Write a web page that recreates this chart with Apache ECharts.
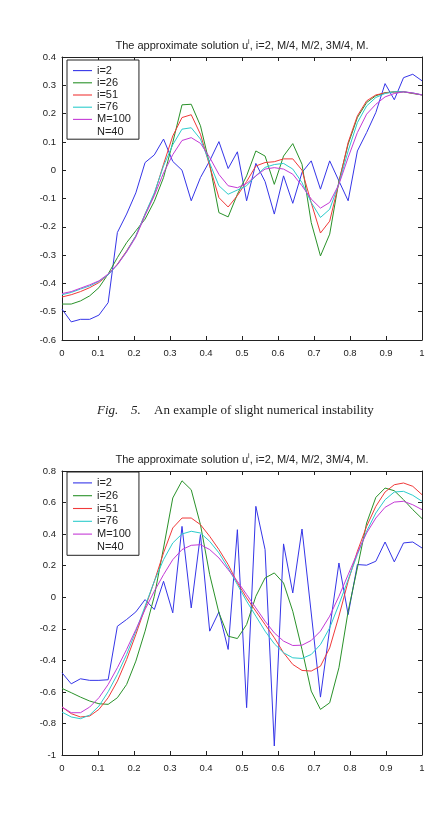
<!DOCTYPE html>
<html><head><meta charset="utf-8">
<script src="https://cdn.jsdelivr.net/npm/echarts@6/dist/echarts.min.js"></script>
<style>html,body{margin:0;padding:0;background:#fff}#c{width:429px;height:813px}</style>
</head><body><div id="c"></div><script>
// ---- data ----
const N = 40; // grid points, x = k/(N-1)
const xs = Array.from({length: N}, (_, k) => k / (N - 1));
const seriesNames = ['i=2', 'i=26', 'i=51', 'i=76', 'M=100'];
const noteName = 'N=40';
const titleMain = 'The approximate solution u';
const titleSup = 'i';
const titleRest = ', i=2, M/4, M/2, 3M/4, M.';
const captionFig = 'Fig.';
const captionNum = '5.';
const captionText = 'An example of slight numerical instability';

const xTickLabels = ['0','0.1','0.2','0.3','0.4','0.5','0.6','0.7','0.8','0.9','1'];
const y1TickLabels = ['-0.6','-0.5','-0.4','-0.3','-0.2','-0.1','0','0.1','0.2','0.3','0.4'];
const y2TickLabels = ['-1','-0.8','-0.6','-0.4','-0.2','0','0.2','0.4','0.6','0.8'];

// Figure 1 (top)
const c1_i2 = [-0.491,-0.536,-0.527,-0.527,-0.512,-0.468,-0.220,-0.155,-0.080,0.027,0.054,0.110,0.031,0.000,-0.108,-0.026,0.033,0.101,0.006,0.065,-0.108,0.024,-0.040,-0.155,-0.020,-0.117,-0.008,0.033,-0.067,0.033,-0.038,-0.108,0.068,0.133,0.204,0.306,0.249,0.327,0.339,0.316];
const c1_i26 = [-0.473,-0.473,-0.462,-0.444,-0.415,-0.367,-0.309,-0.256,-0.214,-0.173,-0.110,-0.026,0.098,0.231,0.233,0.157,0.020,-0.150,-0.165,-0.085,-0.020,0.068,0.050,-0.050,0.050,0.094,0.021,-0.185,-0.303,-0.226,-0.038,0.092,0.186,0.239,0.263,0.274,0.277,0.277,0.271,0.266];
const c1_i51 = [-0.448,-0.440,-0.429,-0.415,-0.397,-0.370,-0.332,-0.285,-0.232,-0.155,-0.085,0.021,0.121,0.186,0.196,0.127,0.015,-0.097,-0.130,-0.090,-0.040,0.015,0.027,0.030,0.040,0.040,0.000,-0.115,-0.222,-0.180,-0.044,0.098,0.192,0.245,0.266,0.273,0.276,0.277,0.272,0.266];
const c1_i76 = [-0.440,-0.432,-0.420,-0.409,-0.393,-0.370,-0.334,-0.287,-0.232,-0.155,-0.080,0.015,0.090,0.145,0.150,0.110,0.025,-0.055,-0.085,-0.070,-0.055,-0.020,0.010,0.020,0.024,0.004,-0.044,-0.114,-0.167,-0.138,-0.047,0.068,0.168,0.227,0.257,0.271,0.277,0.277,0.273,0.266];
const c1_M100 = [-0.436,-0.429,-0.417,-0.405,-0.391,-0.367,-0.334,-0.289,-0.236,-0.160,-0.090,-0.010,0.055,0.105,0.115,0.095,0.045,-0.015,-0.055,-0.062,-0.047,-0.020,0.004,0.009,0.004,-0.014,-0.055,-0.102,-0.134,-0.114,-0.050,0.045,0.133,0.198,0.233,0.259,0.271,0.277,0.273,0.266];

// Figure 2 (bottom)
const c2_i2 = [-0.479,-0.549,-0.517,-0.527,-0.527,-0.523,-0.184,-0.141,-0.093,-0.015,-0.078,0.101,-0.099,0.449,-0.068,0.397,-0.215,-0.093,-0.331,0.428,-0.700,0.576,0.302,-0.943,0.338,0.027,0.432,-0.100,-0.633,-0.200,0.217,-0.110,0.207,0.203,0.228,0.350,0.224,0.344,0.350,0.312];
const c2_i26 = [-0.578,-0.605,-0.633,-0.658,-0.675,-0.679,-0.637,-0.553,-0.405,-0.215,0.006,0.312,0.629,0.738,0.681,0.460,0.143,-0.099,-0.247,-0.262,-0.173,0.006,0.122,0.154,0.090,-0.089,-0.331,-0.595,-0.711,-0.669,-0.447,-0.089,0.186,0.470,0.633,0.692,0.675,0.618,0.555,0.498];
const c2_i51 = [-0.696,-0.738,-0.759,-0.753,-0.711,-0.637,-0.532,-0.395,-0.236,-0.068,0.101,0.281,0.439,0.502,0.502,0.460,0.386,0.302,0.207,0.091,-0.004,-0.089,-0.173,-0.257,-0.352,-0.426,-0.464,-0.468,-0.437,-0.321,-0.120,0.101,0.291,0.449,0.576,0.667,0.713,0.724,0.703,0.650];
const c2_i76 = [-0.728,-0.759,-0.770,-0.747,-0.690,-0.599,-0.489,-0.363,-0.215,-0.057,0.101,0.238,0.344,0.401,0.418,0.407,0.354,0.281,0.186,0.080,-0.025,-0.120,-0.215,-0.295,-0.352,-0.384,-0.388,-0.363,-0.300,-0.194,-0.046,0.112,0.270,0.418,0.534,0.618,0.667,0.671,0.646,0.608];
const c2_M100 = [-0.696,-0.732,-0.732,-0.696,-0.637,-0.553,-0.447,-0.331,-0.205,-0.078,0.038,0.143,0.238,0.302,0.329,0.333,0.302,0.249,0.175,0.101,0.017,-0.068,-0.152,-0.226,-0.278,-0.306,-0.304,-0.274,-0.215,-0.120,0.006,0.143,0.281,0.407,0.502,0.570,0.603,0.608,0.586,0.555];

// ---- build ----
const colors = ['#3535e8', '#2a922a', '#f03a3a', '#2ccccc', '#c43ad6'];
const FONT = '"Liberation Sans", Arial, sans-serif';
const SERIF = '"Liberation Serif", "Times New Roman", serif';
const INK = '#222';
const LINE_ICON = 'path://M0,0 L19,0 L19,1.1 L0,1.1 Z';

const figs = [
  {data: [c1_i2, c1_i26, c1_i51, c1_i76, c1_M100], yLabels: y1TickLabels, yMin: -0.6, yMax: 0.4, yStep: 0.1,
   grid: {left: 62, top: 57, width: 360, height: 283}, titleY: 46, rowH: 12.2,
   legend: {left: 67, top: 60, itemGap: 0, padding: [4.5, 8, 1.5, 6]}},
  {data: [c2_i2, c2_i26, c2_i51, c2_i76, c2_M100], yLabels: y2TickLabels, yMin: -1, yMax: 0.8, yStep: 0.2,
   grid: {left: 62, top: 471, width: 360, height: 284}, titleY: 460, rowH: 12.8,
   legend: {left: 67, top: 472, itemGap: 0, padding: [4.5, 8, 2, 6]}}
];

const grids = [], xAxes = [], yAxes = [], series = [], legends = [], graphics = [];
const axisLine = {show: true, onZero: false, lineStyle: {color: INK, width: 1}};
const axisTick = {show: true, inside: true, length: 4, lineStyle: {color: INK, width: 1}};

figs.forEach((f, g) => {
  grids.push(f.grid);
  const xl = v => xTickLabels[Math.round((v - 0) / 0.1)];
  const yl = v => f.yLabels[Math.round((v - f.yMin) / f.yStep)];
  xAxes.push({type: 'value', gridIndex: g, position: 'bottom', min: 0, max: 1, interval: 0.1,
    axisLine, axisTick, splitLine: {show: false},
    axisLabel: {color: INK, fontSize: 9.5, fontFamily: FONT, margin: 8, formatter: xl}});
  xAxes.push({type: 'value', gridIndex: g, position: 'top', min: 0, max: 1, interval: 0.1,
    axisLine, axisTick, splitLine: {show: false}, axisLabel: {show: false}});
  yAxes.push({type: 'value', gridIndex: g, position: 'left', min: f.yMin, max: f.yMax, interval: f.yStep,
    axisLine, axisTick, splitLine: {show: false},
    axisLabel: {color: INK, fontSize: 9.5, fontFamily: FONT, margin: 6, formatter: yl}});
  yAxes.push({type: 'value', gridIndex: g, position: 'right', min: f.yMin, max: f.yMax, interval: f.yStep,
    axisLine, axisTick, splitLine: {show: false}, axisLabel: {show: false}});

  f.data.forEach((arr, s) => {
    series.push({type: 'line', name: seriesNames[s], xAxisIndex: g * 2, yAxisIndex: g * 2,
      data: xs.map((x, k) => [x, arr[k]]), symbol: 'none', silent: true, animation: false,
      lineStyle: {width: 1, color: colors[s]}, itemStyle: {color: colors[s]}});
  });
  series.push({type: 'line', name: noteName, xAxisIndex: g * 2, yAxisIndex: g * 2, data: [],
    symbol: 'none', silent: true, lineStyle: {opacity: 0}, itemStyle: {opacity: 0}});

  legends.push(Object.assign({
    orient: 'vertical', itemWidth: 19, itemHeight: 10, selectedMode: false, icon: LINE_ICON,
    borderColor: INK, borderWidth: 1, backgroundColor: '#fff', borderRadius: 0,
    textStyle: {fontSize: 11, color: INK, fontFamily: FONT, lineHeight: f.rowH, height: f.rowH},
    data: seriesNames.concat([{name: noteName, itemStyle: {opacity: 0}, lineStyle: {opacity: 0}}])
  }, f.legend));

  graphics.push({type: 'text', x: f.grid.left + f.grid.width / 2, y: f.titleY, z: 10,
    style: {text: '{a|' + titleMain + '}{s|' + titleSup + '}{a|' + titleRest + '}',
      align: 'center', verticalAlign: 'middle', fill: INK,
      rich: {a: {fontSize: 11, fontFamily: FONT, fill: INK, lineHeight: 14},
             s: {fontSize: 7, fontFamily: FONT, fill: INK, verticalAlign: 'top', lineHeight: 8}}}});
});

graphics.push({type: 'text', x: 97, y: 411, style: {text: captionFig, font: 'italic 13px ' + SERIF, fill: INK, verticalAlign: 'middle'}});
graphics.push({type: 'text', x: 131, y: 411, style: {text: captionNum, font: 'italic 13px ' + SERIF, fill: INK, verticalAlign: 'middle'}});
graphics.push({type: 'text', x: 154, y: 411, style: {text: captionText, font: '13px ' + SERIF, fill: INK, verticalAlign: 'middle'}});

const chart = echarts.init(document.getElementById('c'), null, {renderer: 'canvas'});
chart.setOption({
  animation: false,
  backgroundColor: '#fff',
  grid: grids, xAxis: xAxes, yAxis: yAxes,
  legend: legends, series, graphic: graphics
});
</script></body></html>
